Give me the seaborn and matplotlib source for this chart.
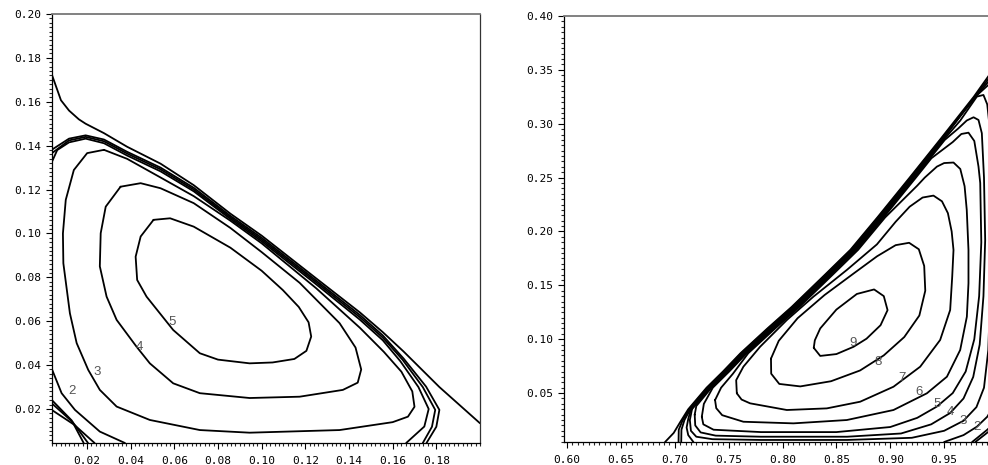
# --------------------------------------------------------------
# Two contour panels, contour lines
# --------------------------------------------------------------
import pandas as pd
import matplotlib.pyplot as plt
import seaborn as sns
from matplotlib.ticker import MultipleLocator, FixedLocator, FormatStrFormatter

# --------------------------------------------------------------
# Left panel (x, y) points of every line
# --------------------------------------------------------------
left_edge = [(0.004, 0.1722), (0.0081, 0.1607), (0.0118, 0.1560), (0.0163, 0.1520),
             (0.0194, 0.1500), (0.0278, 0.1457), (0.0384, 0.1395), (0.0537, 0.1318),
             (0.0689, 0.1220), (0.0857, 0.1090), (0.1000, 0.0990), (0.1250, 0.0795),
             (0.1450, 0.0640), (0.1555, 0.0550), (0.1650, 0.0462), (0.1814, 0.0300),
             (0.2000, 0.0135)]
left_b0 = [(0.004, 0.1382), (0.0118, 0.1432), (0.0194, 0.1447), (0.0278, 0.1428),
           (0.0384, 0.1372), (0.0537, 0.1300), (0.0689, 0.1208), (0.0857, 0.1080),
           (0.1000, 0.0980), (0.1250, 0.0785), (0.1450, 0.0628), (0.1555, 0.0535),
           (0.1650, 0.0430), (0.1753, 0.0302), (0.1814, 0.0196), (0.1800, 0.0119),
           (0.1755, 0.0045)]
left_b1 = [(0.004, 0.1366), (0.0118, 0.1424), (0.0194, 0.1440), (0.0278, 0.1420),
           (0.0384, 0.1364), (0.0537, 0.1292), (0.0689, 0.1200), (0.0857, 0.1073),
           (0.1000, 0.0972), (0.1250, 0.0777), (0.1450, 0.0618), (0.1555, 0.0525),
           (0.1645, 0.0425), (0.1738, 0.0300), (0.1795, 0.0196), (0.1780, 0.0119),
           (0.1738, 0.0045)]
left_b2 = [(0.004, 0.1327), (0.0064, 0.1380), (0.0118, 0.1415), (0.0194, 0.1432),
           (0.0278, 0.1411), (0.0384, 0.1355), (0.0537, 0.1283), (0.0689, 0.1192),
           (0.0857, 0.1066), (0.1000, 0.0964), (0.1250, 0.0768), (0.1450, 0.0607),
           (0.1555, 0.0513), (0.1635, 0.0418), (0.1718, 0.0300), (0.1765, 0.0200),
           (0.1745, 0.0120), (0.1662, 0.0045)]
left_lev3 = [(0.0278, 0.1381), (0.0384, 0.1340), (0.0537, 0.1255), (0.0689, 0.1170),
             (0.0857, 0.1058), (0.1000, 0.0955), (0.1250, 0.0750), (0.1450, 0.0570),
             (0.1560, 0.0460), (0.1640, 0.0370), (0.1690, 0.0280), (0.1700, 0.0210),
             (0.1670, 0.0165), (0.1600, 0.0140), (0.1357, 0.0104), (0.0945, 0.0092),
             (0.0717, 0.0104), (0.0488, 0.0150), (0.0336, 0.0211), (0.0259, 0.0287),
             (0.0206, 0.0378), (0.0153, 0.0500), (0.0122, 0.0636), (0.0092, 0.0864),
             (0.0090, 0.1000), (0.0103, 0.1153), (0.0140, 0.1289), (0.0201, 0.1366),
             (0.0278, 0.1381)]
left_lev4 = [(0.0354, 0.1213), (0.0446, 0.1229), (0.0537, 0.1206), (0.0689, 0.1138),
             (0.0857, 0.1025), (0.1000, 0.0915), (0.1174, 0.0775), (0.1357, 0.0591),
             (0.1430, 0.0480), (0.1456, 0.0380), (0.1440, 0.0320), (0.1372, 0.0287),
             (0.1174, 0.0256), (0.0945, 0.0250), (0.0717, 0.0272), (0.0595, 0.0317),
             (0.0488, 0.0408), (0.0427, 0.0484), (0.0336, 0.0606), (0.0290, 0.0712),
             (0.0259, 0.0850), (0.0263, 0.1001), (0.0286, 0.1122), (0.0354, 0.1213)]
left_lev5 = [(0.0505, 0.1062), (0.0581, 0.1069), (0.0689, 0.1031), (0.0857, 0.0935),
             (0.1000, 0.0830), (0.1097, 0.0742), (0.1170, 0.0665), (0.1215, 0.0595),
             (0.1227, 0.0530), (0.1205, 0.0465), (0.1150, 0.0428), (0.1050, 0.0412),
             (0.0945, 0.0408), (0.0800, 0.0425), (0.0717, 0.0454), (0.0595, 0.0560),
             (0.0473, 0.0712), (0.0430, 0.0788), (0.0423, 0.0894), (0.0446, 0.0986),
             (0.0505, 0.1062)]
left_lev2_low = [(0.0041, 0.0378), (0.0084, 0.0272), (0.0145, 0.0196),
                 (0.0259, 0.0097), (0.0374, 0.0045)]
left_n1 = [(0.004, 0.0240), (0.0130, 0.0148), (0.0185, 0.0045)]
left_n2 = [(0.004, 0.0225), (0.0135, 0.0140), (0.0205, 0.0045)]
left_n3 = [(0.004, 0.0195), (0.0142, 0.0128), (0.0235, 0.0045)]

left_label_text = ["2", "3", "4", "5"]
left_label_x = [0.0133, 0.0247, 0.0439, 0.0592]
left_label_y = [0.0284, 0.0370, 0.0484, 0.0598]
left_xticks = [0.02, 0.04, 0.06, 0.08, 0.10, 0.12, 0.14, 0.16, 0.18]
left_yticks = [0.02, 0.04, 0.06, 0.08, 0.10, 0.12, 0.14, 0.16, 0.18, 0.20]

# --------------------------------------------------------------
# Right panel (x, y) points of every line
# --------------------------------------------------------------
right_edge = [(0.691, 0.0046), (0.699, 0.013), (0.705, 0.023), (0.7125, 0.035),
              (0.7295, 0.055), (0.7447, 0.070), (0.7610, 0.087), (0.7860, 0.110),
              (0.8085, 0.130), (0.8395, 0.160), (0.8630, 0.183), (0.8880, 0.213),
              (0.9180, 0.250), (0.9460, 0.285), (0.9775, 0.325), (0.991, 0.344),
              (1.0, 0.357)]
right_l1a = [(0.7035, 0.0046), (0.7037, 0.016), (0.7070, 0.024), (0.7133, 0.035),
             (0.7303, 0.055), (0.7455, 0.070), (0.7618, 0.087), (0.7868, 0.110),
             (0.8093, 0.130), (0.8403, 0.160), (0.8638, 0.183), (0.8888, 0.213),
             (0.9188, 0.250), (0.9468, 0.285), (0.9780, 0.3245), (0.991, 0.3415),
             (1.0, 0.352)]
right_l1b = [(0.7060, 0.0046), (0.7062, 0.016), (0.7090, 0.025), (0.7145, 0.035),
             (0.7311, 0.055), (0.7463, 0.070), (0.7626, 0.087), (0.7876, 0.110),
             (0.8101, 0.130), (0.8411, 0.160), (0.8646, 0.183), (0.8896, 0.213),
             (0.9196, 0.250), (0.9476, 0.285), (0.9785, 0.324), (0.991, 0.339),
             (1.0, 0.348)]
right_l1a_low = [(0.9760, 0.0046), (0.9897, 0.0157), (1.0, 0.025)]
right_l1b_low = [(0.9790, 0.0046), (0.9910, 0.0140), (1.0, 0.021)]
right_lev2 = [(0.7173, 0.0046), (0.7125, 0.011), (0.7110, 0.018), (0.7125, 0.026),
              (0.7150, 0.035), (0.7320, 0.055), (0.7472, 0.070), (0.7635, 0.087),
              (0.7885, 0.110), (0.8110, 0.130), (0.8420, 0.160), (0.8655, 0.183),
              (0.8905, 0.213), (0.9205, 0.250), (0.9485, 0.285), (0.9700, 0.314),
              (0.9800, 0.326), (0.991, 0.336), (1.0, 0.341)]
right_lev2_low = [(0.9500, 0.0046), (0.9680, 0.011), (0.9804, 0.0188),
                  (0.9900, 0.028), (1.0, 0.045)]
right_lev3 = [(0.7160, 0.035), (0.7140, 0.025), (0.7150, 0.015), (0.7200, 0.0095),
              (0.7350, 0.0072), (0.7800, 0.0065), (0.8600, 0.0065), (0.9200, 0.0085),
              (0.9500, 0.0150), (0.9680, 0.0243), (0.9800, 0.037), (0.9870, 0.055),
              (0.9910, 0.090), (0.9930, 0.150), (0.9940, 0.220), (0.9930, 0.290),
              (0.9900, 0.318), (0.9865, 0.3267), (0.9804, 0.3252), (0.9740, 0.316),
              (0.9650, 0.303), (0.9495, 0.285), (0.9215, 0.250), (0.8915, 0.213),
              (0.8665, 0.183), (0.8430, 0.160), (0.8120, 0.130), (0.7895, 0.110),
              (0.7645, 0.087), (0.7482, 0.070), (0.7330, 0.055), (0.7160, 0.035)]
right_lev4 = [(0.7185, 0.030), (0.7190, 0.020), (0.7240, 0.0135), (0.7380, 0.0105),
              (0.7800, 0.0095), (0.8600, 0.0095), (0.9100, 0.0125), (0.9380, 0.021),
              (0.9556, 0.0315), (0.9680, 0.045), (0.9770, 0.065), (0.9830, 0.095),
              (0.9865, 0.140), (0.9881, 0.192), (0.9870, 0.250), (0.9850, 0.2912),
              (0.9819, 0.3035), (0.9773, 0.306), (0.9710, 0.303), (0.9630, 0.2955),
              (0.9506, 0.285), (0.9226, 0.250), (0.8926, 0.213), (0.8676, 0.183),
              (0.8441, 0.160), (0.8131, 0.130), (0.7906, 0.110), (0.7656, 0.087),
              (0.7493, 0.070), (0.7341, 0.055), (0.7200, 0.038), (0.7185, 0.030)]
right_lev5 = [(0.7251, 0.028), (0.7265, 0.021), (0.7360, 0.016), (0.7800, 0.0138),
              (0.8500, 0.0138), (0.9000, 0.0185), (0.9250, 0.027), (0.9433, 0.0375),
              (0.9580, 0.050), (0.9700, 0.070), (0.9780, 0.100), (0.9825, 0.140),
              (0.9845, 0.190), (0.9835, 0.245), (0.9819, 0.2602), (0.9780, 0.284),
              (0.9726, 0.2917), (0.9660, 0.2905), (0.9580, 0.283), (0.9382, 0.268),
              (0.9238, 0.250), (0.8938, 0.213), (0.8688, 0.183), (0.8453, 0.160),
              (0.8143, 0.130), (0.7918, 0.110), (0.7668, 0.087), (0.7505, 0.070),
              (0.7353, 0.055), (0.7270, 0.040), (0.7251, 0.028)]
right_lev6 = [(0.7374, 0.0435), (0.7385, 0.0360), (0.7440, 0.0295), (0.7637, 0.0234),
              (0.8101, 0.0219), (0.8597, 0.0250), (0.9030, 0.0343), (0.9340, 0.0498),
              (0.9526, 0.0652), (0.9649, 0.0900), (0.9711, 0.1209), (0.9726, 0.1519),
              (0.9726, 0.1828), (0.9710, 0.2200), (0.9690, 0.2420), (0.9650, 0.2580),
              (0.9587, 0.2640), (0.9500, 0.2635), (0.9433, 0.2602), (0.9320, 0.2500),
              (0.9250, 0.2425), (0.8952, 0.213), (0.8702, 0.183), (0.8467, 0.160),
              (0.8157, 0.130), (0.7932, 0.110), (0.7682, 0.087), (0.7540, 0.068),
              (0.7430, 0.055), (0.7374, 0.0435)]
right_lev7 = [(0.7576, 0.0498), (0.7620, 0.0440), (0.7699, 0.0405), (0.8040, 0.0343),
              (0.8411, 0.0358), (0.8721, 0.0420), (0.9030, 0.0559), (0.9278, 0.0745),
              (0.9463, 0.0993), (0.9556, 0.1271), (0.9575, 0.1580), (0.9587, 0.1828),
              (0.9570, 0.2000), (0.9535, 0.2170), (0.9480, 0.2280), (0.9401, 0.2333),
              (0.9300, 0.2315), (0.9180, 0.2230), (0.9050, 0.2090), (0.8876, 0.1880),
              (0.8597, 0.1643), (0.8287, 0.1395), (0.8040, 0.1178), (0.7792, 0.0930),
              (0.7637, 0.0745), (0.7570, 0.0620), (0.7576, 0.0498)]
right_lev8 = [(0.7893, 0.0820), (0.7965, 0.0985), (0.8140, 0.1195), (0.8390, 0.1410),
              (0.8660, 0.1610), (0.8878, 0.1770), (0.9050, 0.1873), (0.9175, 0.1895),
              (0.9265, 0.1835), (0.9315, 0.1680), (0.9325, 0.1450), (0.9270, 0.1220),
              (0.9130, 0.1020), (0.8940, 0.0850), (0.8720, 0.0710), (0.8450, 0.0610),
              (0.8165, 0.0562), (0.7970, 0.0585), (0.7895, 0.0680), (0.7893, 0.0820)]
right_lev9 = [(0.8290, 0.0920), (0.8300, 0.0990), (0.8350, 0.1100), (0.8500, 0.1275),
              (0.8690, 0.1420), (0.8850, 0.1462), (0.8940, 0.1400), (0.8975, 0.1270),
              (0.8910, 0.1130), (0.8780, 0.1005), (0.8660, 0.0930), (0.8500, 0.0862),
              (0.8350, 0.0845), (0.8290, 0.0920)]

right_label_text = ["9", "8", "7", "6", "5", "4", "3", "2"]
right_label_x = [0.8658, 0.8891, 0.9108, 0.9271, 0.9433, 0.9556, 0.9680, 0.9804]
right_label_y = [0.0968, 0.0791, 0.0637, 0.0513, 0.0395, 0.0327, 0.0243, 0.0188]
right_xticks = [0.60, 0.65, 0.70, 0.75, 0.80, 0.85, 0.90, 0.95]
right_yticks = [0.05, 0.10, 0.15, 0.20, 0.25, 0.30, 0.35, 0.40]


def curves_frame(curves):
    rows = []
    for name, pts in curves.items():
        for i, (x, y) in enumerate(pts):
            rows.append((name, i, x, y))
    return pd.DataFrame(rows, columns=["curve", "order", "x", "y"])


left_df = curves_frame({
    "edge": left_edge, "b0": left_b0, "b1": left_b1, "b2": left_b2,
    "lev3": left_lev3, "lev4": left_lev4, "lev5": left_lev5,
    "lev2_low": left_lev2_low, "n1": left_n1, "n2": left_n2, "n3": left_n3,
})
right_df = curves_frame({
    "edge": right_edge, "l1a": right_l1a, "l1b": right_l1b,
    "l1a_low": right_l1a_low, "l1b_low": right_l1b_low,
    "lev2": right_lev2, "lev2_low": right_lev2_low, "lev3": right_lev3,
    "lev4": right_lev4, "lev5": right_lev5, "lev6": right_lev6,
    "lev7": right_lev7, "lev8": right_lev8, "lev9": right_lev9,
})

# --------------------------------------------------------------
# Plot
# --------------------------------------------------------------
sns.set_style("white")
plt.rcParams["font.family"] = ["DejaVu Sans Mono", "DejaVu Sans"]

fig = plt.figure(figsize=(9.88, 4.65), dpi=100)
ax1 = fig.add_axes([52 / 988, 22 / 465, 428 / 988, 429 / 465])
ax2 = fig.add_axes([564 / 988, 23 / 465, 434 / 988, 426 / 465])

for ax, df in [(ax1, left_df), (ax2, right_df)]:
    sns.lineplot(data=df, x="x", y="y", units="curve", estimator=None,
                 sort=False, color="black", lw=1.3, ax=ax)
    ax.set_xlabel("")
    ax.set_ylabel("")

for t, x, y in zip(left_label_text, left_label_x, left_label_y):
    ax1.text(x, y, t, ha="center", va="center", fontsize=9.5,
             color="#555555", family="Liberation Sans")
for t, x, y in zip(right_label_text, right_label_x, right_label_y):
    ax2.text(x, y, t, ha="center", va="center", fontsize=9.5,
             color="#555555", family="Liberation Sans")

ax1.set_xlim(0.004, 0.2)
ax1.set_ylim(0.0045, 0.2)
ax1.xaxis.set_major_locator(FixedLocator(left_xticks))
ax1.xaxis.set_minor_locator(MultipleLocator(0.002))
ax1.yaxis.set_major_locator(FixedLocator(left_yticks))
ax1.yaxis.set_minor_locator(MultipleLocator(0.002))

ax2.set_xlim(0.5972, 1.0)
ax2.set_ylim(0.0046, 0.4)
ax2.xaxis.set_major_locator(FixedLocator(right_xticks))
ax2.xaxis.set_minor_locator(MultipleLocator(0.005))
ax2.yaxis.set_major_locator(FixedLocator(right_yticks))
ax2.yaxis.set_minor_locator(MultipleLocator(0.005))

for ax in (ax1, ax2):
    ax.xaxis.set_major_formatter(FormatStrFormatter("%.2f"))
    ax.yaxis.set_major_formatter(FormatStrFormatter("%.2f"))
    ax.tick_params(which="major", direction="out", length=4.5, width=0.8,
                   labelsize=8, colors="black", bottom=True, left=True)
    ax.tick_params(which="minor", direction="out", length=2.2, width=0.8,
                   bottom=True, left=True)
    ax.tick_params(axis="x", which="major", pad=5)
    ax.tick_params(axis="y", which="major", pad=3)
    for side in ["left", "bottom"]:
        ax.spines[side].set_color("black")
        ax.spines[side].set_linewidth(0.9)
    ax.spines["top"].set_color("#777777")
    ax.spines["top"].set_linewidth(1.3)
    ax.spines["right"].set_color("#333333")
    ax.spines["right"].set_linewidth(0.9)

fig.savefig("out.png", dpi=100)
